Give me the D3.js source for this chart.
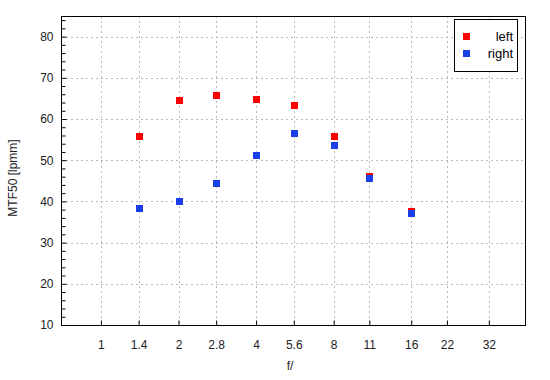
<!DOCTYPE html>
<html><head><meta charset="utf-8">
<script src="https://cdn.jsdelivr.net/npm/d3@7"></script>
<style>
body{margin:0;background:#fff;}
text{font-family:"Liberation Sans",Arial,sans-serif;}
</style></head>
<body><svg id="c" width="550" height="380"></svg>
<script>
const fStops = [1.4, 2, 2.8, 4, 5.6, 8, 11, 16];
const leftVals = [55.9, 64.6, 65.8, 64.9, 63.4, 55.9, 46.2, 37.7];
const rightVals = [38.4, 40.1, 44.4, 51.2, 56.6, 53.7, 45.7, 37.2];
const xTickLabels = [1, 1.4, 2, 2.8, 4, 5.6, 8, 11, 16, 22, 32];
const yTicks = [10, 20, 30, 40, 50, 60, 70, 80];
const seriesNames = ["left", "right"];
const seriesColors = ["#ff0000", "#1a3fe6"];

const svg = d3.select("#c");
const L = 61, R = 525, T = 16, B = 325;
const x = d3.scaleLog().domain([0.7, 44.2]).range([L, R]);
const y = d3.scaleLinear().domain([10, 85]).range([B, T]);
const txt = "#222";

// grid
const g = svg.append("g");
g.selectAll("line.vg").data(xTickLabels).join("line")
  .attr("x1", d => Math.round(x(d)) + 0.5).attr("x2", d => Math.round(x(d)) + 0.5)
  .attr("y1", T).attr("y2", B)
  .attr("stroke", "#bbb").attr("stroke-dasharray", "2,3");
g.selectAll("line.hg").data(yTicks.slice(1)).join("line")
  .attr("y1", d => Math.round(y(d)) + 0.5).attr("y2", d => Math.round(y(d)) + 0.5)
  .attr("x1", L).attr("x2", R)
  .attr("stroke", "#bbb").attr("stroke-dasharray", "2,3");

// frame
svg.append("rect").attr("x", L + 0.5).attr("y", T + 0.5).attr("width", R - L).attr("height", B - T)
  .attr("fill", "none").attr("stroke", "#000");

// y axis (ticks inward)
const yAxis = d3.axisRight(y).tickValues(d3.range(10, 86, 2)).tickSize(4)
  .tickFormat(d => yTicks.includes(d) ? d : "");
const ya = svg.append("g").attr("transform", `translate(${L + 0.5},0)`).call(yAxis);
ya.select(".domain").remove();
ya.selectAll(".tick line").attr("stroke", "#000").attr("x2", d => yTicks.includes(d) ? 5 : 4);
ya.selectAll(".tick text").attr("x", -8).attr("text-anchor", "end")
  .attr("font-size", 12).attr("fill", txt);

// x axis (ticks inward)
const xAxis = d3.axisTop(x).tickValues(xTickLabels).tickSize(5).tickFormat(d => d);
const xa = svg.append("g").attr("transform", `translate(0,${B + 0.5})`).call(xAxis);
xa.select(".domain").remove();
xa.selectAll(".tick line").attr("stroke", "#000");
xa.selectAll(".tick text").attr("y", 23).attr("dy", "0").attr("font-size", 12).attr("fill", txt);

// points
const series = [leftVals, rightVals];
series.forEach((vals, i) => {
  svg.append("g").selectAll("rect").data(vals).join("rect")
    .attr("x", (d, j) => Math.round(x(fStops[j])) - 3)
    .attr("y", d => Math.round(y(d)) - 3)
    .attr("width", 7).attr("height", 7)
    .attr("fill", seriesColors[i]);
});

// labels
svg.append("text").attr("x", 290).attr("y", 370).attr("text-anchor", "middle")
  .attr("font-size", 12).attr("fill", txt).text("f/");
svg.append("text").attr("transform", "translate(17,178) rotate(-90)").attr("text-anchor", "middle")
  .attr("font-size", 12).attr("fill", txt).text("MTF50 [lpmm]");

// legend
const lg = svg.append("g");
lg.append("rect").attr("x", 454.5).attr("y", 19.5).attr("width", 63).attr("height", 52)
  .attr("fill", "#fff").attr("stroke", "#000");
seriesNames.forEach((n, i) => {
  lg.append("rect").attr("x", 463).attr("y", 33 + i * 17).attr("width", 7).attr("height", 7)
    .attr("fill", seriesColors[i]);
  lg.append("text").attr("x", 513).attr("y", 41 + i * 17).attr("text-anchor", "end")
    .attr("font-size", 13).attr("fill", "#000").text(n);
});
</script></body></html>
